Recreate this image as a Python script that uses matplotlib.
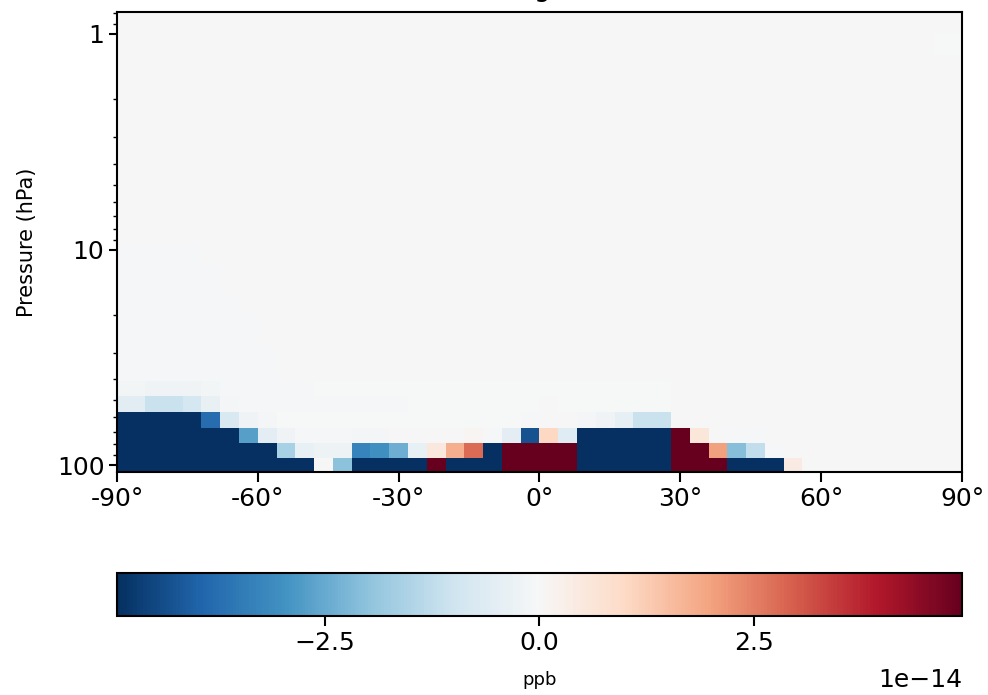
import numpy as np
import matplotlib
matplotlib.use("Agg")
import matplotlib.pyplot as plt
from matplotlib.ticker import NullFormatter

# grid: GEOS-Chem style 4-degree latitude bands (2-degree polar caps)
lat_edges = np.r_[-90, np.arange(-88, 89, 4), 90]
# pressure level edges (hPa), bottom to top
pressure_edges = [107.7, 92.6, 78.5, 66.9, 56.4, 47.6, 40.55, 34.0, 28.4, 23.8,
                  19.9, 16.4, 13.7, 11.5, 9.39, 7.55, 6.05, 4.85, 3.88, 3.10,
                  2.48, 1.98, 1.58, 1.26, 1.0, 0.79]

scale = 1e-14          # values below are in units of 1e-14 ppb
N, R = -6.0, 6.0       # saturated cells (beyond colour range)

row_0 = [N]*11 + [0, -2.0] + [N]*4 + [R] + [N]*3 + [R]*4 + [N]*5 + [R]*3 + [N]*3 + [0.4] + [0]*9
row_1 = ([N]*9 + [-1.6, -0.4, -0.25, -0.25, -3.3, -3.0, -2.4, -0.4, 0.5, 1.8, 2.8, N]
         + [R]*4 + [N]*5 + [R]*2 + [2.0, -2.1, -1.2, -0.05] + [0]*10)
row_2 = ([N]*7 + [-2.7, -0.5, -0.2, -0.05, -0.05, -0.05, -0.1, -0.1, 0, 0, 0, 0,
                  0.1, -0.05, -0.5, -4.3, 1.0, -0.6]
         + [N]*5 + [R, 0.6, 0, -0.05, -0.05] + [0]*11)
row_3 = ([N]*5 + [-3.8, -0.8, -0.2, -0.1] + [-0.03]*13
         + [-0.05, 0.02, 0, -0.1, -0.2, -0.45, -1.1, -1.1] + [0]*16)
row_4 = ([-0.55, -0.55, -1.1, -1.1, -0.85, -0.35, -0.1] + [-0.04]*9 + [-0.03]*7
         + [0.01] + [-0.03]*6 + [0]*16)
row_5 = [-0.15, -0.15, -0.2, -0.2, -0.2, -0.12] + [-0.04]*5 + [-0.02]*19 + [0]*16
# number of southern cells with a faint negative tint, levels 6..24
upper_tint_cells = [9, 9, 8, 8, 7, 6, 6, 5, 0, 0, 0, 0, 0, 0, 0, 0, 0, 0, 0]
upper_tint = -0.04

rows = [row_0, row_1, row_2, row_3, row_4, row_5]
for n in upper_tint_cells:
    rows.append([upper_tint]*n + [0]*(46 - n))
rows[23][44] = rows[23][45] = -0.02
data = np.array(rows) * scale

vlim = 4.92e-14

fig = plt.figure(figsize=(9.88, 6.95), dpi=100)
ax = fig.add_axes([0.1184, 0.3204, 0.8553, 0.6628])
mesh = ax.pcolormesh(lat_edges, pressure_edges, data, cmap="RdBu_r",
                     vmin=-vlim, vmax=vlim)

ax.set_yscale("log")
ax.set_ylim(107.7, 0.79)
ax.set_xlim(-90, 90)
ax.set_xticks([-90, -60, -30, 0, 30, 60, 90])
ax.set_xticklabels(["-90°", "-60°", "-30°", "0°", "30°", "60°", "90°"])
ax.set_yticks([1, 10, 100])
ax.set_yticklabels(["1", "10", "100"])
ax.yaxis.set_minor_formatter(NullFormatter())
ax.tick_params(axis="x", which="major", labelsize=18, length=7, width=1.5)
ax.tick_params(axis="y", which="major", labelsize=18, length=5.5, width=1.5)
ax.tick_params(axis="y", which="minor", length=3, width=1)
for s in ax.spines.values():
    s.set_linewidth(1.5)
ax.set_ylabel("Pressure (hPa)", fontsize=15)
ax.yaxis.set_label_coords(-0.095, 0.5)
# title sits mostly above the canvas, as in the reference crop
ax.set_title("Change", fontsize=19, pad=11, x=0.473)

cax = fig.add_axes([0.1184, 0.1137, 0.8553, 0.0619])
cbar = fig.colorbar(mesh, cax=cax, orientation="horizontal")
cbar.set_ticks([-2.5e-14, 0, 2.5e-14])
cbar.ax.tick_params(labelsize=18, length=7, width=1.5)
cbar.outline.set_linewidth(1.5)
cbar.set_label("ppb", fontsize=13, labelpad=12)
cbar.ax.xaxis.OFFSETTEXTPAD = 10
cbar.ax.xaxis.get_offset_text().set_fontsize(18)

fig.savefig("out.png", dpi=100)
